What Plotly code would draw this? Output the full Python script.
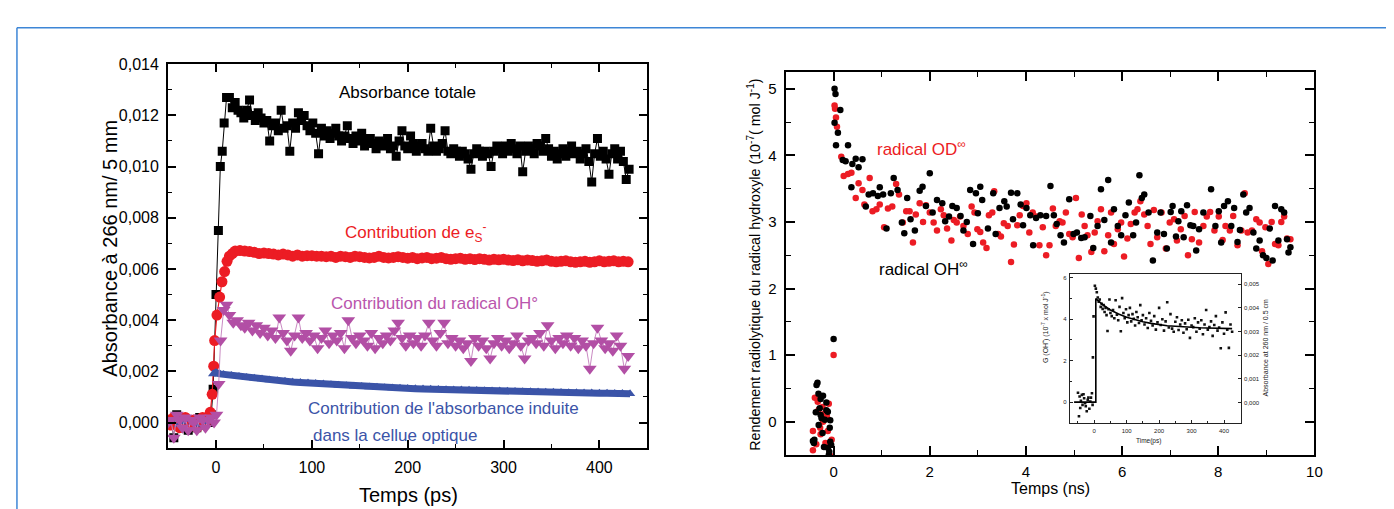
import plotly.graph_objects as go

# ---------------- Left panel data (Temps ps, Absorbance) ----------------
total_t = [-50,-47,-44,-41,-38,-35,-32,-29,-26,-23,-20,-17,-14,-11,-8,-5,-3,0,2.5,4.5,6.5,8.5,11,14,
           17,20,23,26,29,32,35,38,41,44,
           47,50,53,56,59,62,65,68,71,74,
           77,80,83,86,89,92,95,98,101,104,
           107,110,113,116,119,122,125,128,131,134,
           137,140,143,146,149,152,155,158,161,164,
           167,170,173,176,179,182,185,188,191,194,
           197,200,203,206,209,212,215,218,221,224,
           227,230,233,236,239,242,245,248,251,254,
           257,260,263,266,269,272,275,278,281,284,
           287,290,293,296,299,302,305,308,311,314,
           317,320,323,326,329,332,335,338,341,344,
           347,350,353,356,359,362,365,368,371,374,
           377,380,383,386,389,392,395,398,401,404,
           407,410,413,416,419,422,425,428,431]
total_abs = [0.0000,0.0001,-0.0006,0.0003,0.0002,-0.0002,0.0000,-0.0003,0.0001,-0.0001,-0.0002,0.0002,-0.0001,0.0001,0.0000,0.0003,0.0013,0.0050,0.0075,0.0100,0.0106,0.0117,0.0127,0.0127,
             0.0123,0.0125,0.0122,0.0121,0.0119,0.0122,0.0126,0.0120,0.0118,0.0121,
             0.0119,0.0117,0.0118,0.0110,0.0116,0.0117,0.0114,0.0122,0.0115,0.0116,
             0.0106,0.0117,0.0115,0.0121,0.0118,0.0120,0.0116,0.0114,0.0117,0.0113,
             0.0105,0.0115,0.0112,0.0114,0.0111,0.0113,0.0115,0.0112,0.0110,0.0112,
             0.0116,0.0111,0.0109,0.0112,0.0110,0.0113,0.0108,0.0110,0.0111,0.0109,
             0.0107,0.0110,0.0108,0.0109,0.0111,0.0107,0.0108,0.0104,0.0110,0.0114,
             0.0108,0.0107,0.0112,0.0109,0.0106,0.0108,0.0109,0.0107,0.0106,0.0115,
             0.0108,0.0106,0.0107,0.0109,0.0114,0.0106,0.0105,0.0107,0.0106,0.0104,
             0.0106,0.0105,0.0103,0.0099,0.0105,0.0107,0.0106,0.0104,0.0106,0.0105,
             0.0100,0.0106,0.0108,0.0107,0.0105,0.0108,0.0106,0.0109,0.0107,0.0105,
             0.0108,0.0098,0.0106,0.0108,0.0107,0.0105,0.0109,0.0108,0.0106,0.0111,
             0.0107,0.0104,0.0106,0.0103,0.0105,0.0107,0.0104,0.0106,0.0108,0.0105,
             0.0106,0.0103,0.0105,0.0107,0.0102,0.0094,0.0105,0.0111,0.0104,0.0106,
             0.0103,0.0097,0.0105,0.0107,0.0103,0.0106,0.0102,0.0095,0.0099]

es_t = [-50,-47,-44,-41,-38,-35,-32,-29,-26,-23,-20,-17,-14,-11,-8,
        -6,-4,-2.4,-1.4,1,3.8,6.2,9,11.5,14,17,
        20,25,30,35,40,45,50,55,60,65,
        70,75,80,85,90,95,100,105,110,115,
        120,125,130,135,140,145,150,155,160,165,
        170,175,180,185,190,195,200,205,210,215,
        220,225,230,235,240,245,250,255,260,265,
        270,275,280,285,290,295,300,305,310,315,
        320,325,330,335,340,345,350,355,360,365,
        370,375,380,385,390,395,400,405,410,415,
        420,425,430]
es_abs = [0.0001,-0.0001,0.0002,0.0000,-0.0002,0.0001,0.0002,-0.0001,0.0000,0.0001,-0.0002,0.0001,0.0002,0.0000,0.0002,
          0.0004,0.0011,0.0022,0.0032,0.0042,0.0049,0.0055,0.0059,0.0063,0.0065,0.0066,
          0.00670,0.00672,0.00670,0.00668,0.00665,0.00660,0.00662,0.00660,0.00658,0.00655,
          0.00658,0.00655,0.00650,0.00655,0.00650,0.00652,0.00652,0.00650,0.00650,0.00648,
          0.00650,0.00645,0.00650,0.00648,0.00645,0.00650,0.00648,0.00645,0.00643,0.00645,
          0.00650,0.00645,0.00643,0.00645,0.00648,0.00645,0.00642,0.00645,0.00640,0.00643,
          0.00645,0.00640,0.00642,0.00645,0.00640,0.00638,0.00640,0.00642,0.00638,0.00640,
          0.00637,0.00640,0.00638,0.00635,0.00638,0.00636,0.00638,0.00635,0.00633,0.00636,
          0.00632,0.00635,0.00633,0.00630,0.00632,0.00635,0.00630,0.00628,0.00630,0.00632,
          0.00628,0.00626,0.00628,0.00630,0.00626,0.00628,0.00632,0.00628,0.00630,0.00632,
          0.00628,0.00630,0.00628]

oh_t = [-50,-47,-44,-41,-38,-35,-32,-29,-26,-23,-20,-17,-14,-11,-8,-5,-2,
        0.5,2.8,4.8,8,11,
        14,18,22,26,30,34,38,42,46,50,
        54,58,62,66,70,74,78,82,86,90,
        94,98,102,106,110,114,118,122,126,130,
        134,138,142,146,150,154,158,162,166,170,
        174,178,182,186,190,194,198,202,206,210,
        214,218,222,226,230,234,238,242,246,250,
        254,258,262,266,270,274,278,282,286,290,
        294,298,302,306,310,314,318,322,326,330,
        334,338,342,346,350,354,358,362,366,370,
        374,378,382,386,390,394,398,402,406,410,
        414,418,422,426,430]
oh_abs = [0.0000,0.0001,-0.0006,0.0003,0.0001,-0.0002,0.0002,-0.0003,0.0001,0.0000,-0.0003,0.0002,0.0001,-0.0002,0.0001,0.0002,0.0000,
          0.0003,0.0015,0.0032,0.0044,0.0046,
          0.0042,0.0039,0.0040,0.0038,0.0037,0.0039,0.0036,0.0038,0.0035,0.0037,
          0.0034,0.0036,0.0033,0.0041,0.0035,0.0032,0.0028,0.0034,0.0041,0.0033,
          0.0035,0.0032,0.0034,0.0029,0.0033,0.0036,0.0031,0.0034,0.0032,0.0035,
          0.0029,0.0040,0.0033,0.0031,0.0034,0.0032,0.0030,0.0035,0.0029,0.0033,
          0.0031,0.0034,0.0032,0.0036,0.0039,0.0033,0.0030,0.0034,0.0031,0.0033,
          0.0030,0.0034,0.0039,0.0032,0.0030,0.0035,0.0039,0.0031,0.0033,0.0030,
          0.0032,0.0029,0.0031,0.0024,0.0033,0.0030,0.0032,0.0029,0.0025,0.0031,
          0.0033,0.0030,0.0032,0.0029,0.0031,0.0034,0.0030,0.0025,0.0032,0.0033,
          0.0031,0.0035,0.0030,0.0038,0.0032,0.0029,0.0033,0.0031,0.0034,0.0030,
          0.0033,0.0029,0.0032,0.0030,0.0021,0.0031,0.0037,0.0032,0.0029,0.0031,
          0.0028,0.0034,0.0030,0.0021,0.0026]

cell_pre_t = [-50,-45,-40,-35,-30,-25,-20,-15,-10,-5]
cell_pre_abs = [0.0000,0.0001,-0.0001,0.0000,0.0001,0.0000,-0.0001,0.0001,0.0000,0.0001]
cell_t = [-3,0,4,8,16,24,32,40,48,56,64,72,80,88,96,104,112,120,128,136,144,152,160,
          168,176,184,192,200,208,216,224,232,240,248,256,264,272,280,288,296,304,312,320,
          328,336,344,352,360,368,376,384,392,400,408,416,424,432]
cell_abs = [0.00190,0.00195,0.00190,
            0.00188,0.00184,0.00180,0.00176,0.00173,0.00170,0.00166,0.00163,0.00161,0.00158,
            0.00156,0.00154,0.00152,0.00150,0.00148,0.00146,0.00144,0.00142,0.00141,0.00139,
            0.00138,0.00136,0.00135,0.00134,0.00133,0.00132,0.00131,0.00130,0.00129,0.00128,
            0.00127,0.00127,0.00126,0.00125,0.00124,0.00123,0.00123,0.00122,0.00121,0.00120,
            0.00120,0.00119,0.00118,0.00118,0.00117,0.00116,0.00116,0.00115,0.00115,0.00114,
            0.00114,0.00113,0.00113,0.00112]

# ---------------- Right panel data (Temps ns, G) ----------------
OH_ns = [-0.335,-0.355,-0.315,-0.22,-0.27,-0.15,-0.37,-0.12,-0.27,-0.18,-0.07,-0.31,-0.08,-0.23,-0.43,-0.40,-0.07,-0.20,-0.12,-0.09,-0.10,-0.29,-0.15,-0.41,-0.25,-0.05,0.0,
         0.02,0.04,0.02,0.05,0.14,0.09,0.30,0.19,0.25,0.39,
         0.46,0.52,0.60,0.37,0.67,0.73,0.82,0.92,0.96,1.03,
         1.10,1.19,1.25,1.33,1.42,1.47,1.53,1.60,1.69,1.79,
         1.85,1.92,2.00,2.06,2.15,2.26,2.32,2.40,2.47,2.56,
         2.64,2.70,2.77,2.84,2.90,2.96,3.00,3.05,3.09,3.21,
         3.32,3.37,3.45,3.55,3.60,3.69,3.73,3.82,3.89,3.94,
         4.01,4.09,4.15,4.21,4.30,4.42,4.51,4.58,4.64,4.72,
         4.79,4.90,4.99,5.06,5.15,5.22,5.34,5.40,5.49,5.56,
         5.63,5.71,5.77,5.83,5.91,5.98,6.07,6.14,6.23,6.29,
         6.36,6.41,6.46,6.55,6.64,6.73,6.80,6.87,6.93,7.01,
         7.05,7.12,7.17,7.23,7.28,7.35,7.42,7.48,7.54,7.60,
         7.69,7.85,7.94,8.01,8.06,8.12,8.20,8.27,8.33,8.40,
         8.45,8.52,8.58,8.65,8.73,8.79,8.86,8.93,9.00,9.07,
         9.13,9.18,9.25,9.31,9.37,9.43,9.46,9.50]
OH_G = [0.586,0.55,0.42,0.39,0.34,0.29,0.14,0.15,0.10,0.03,0.02,-0.05,-0.09,-0.17,-0.29,-0.27,-0.30,-0.38,-0.39,-0.45,-0.50,0.20,0.17,-0.32,0.05,-0.35,1.24,
        5.00,4.92,4.49,4.15,4.68,4.34,4.15,3.93,3.91,3.87,
        3.95,3.82,3.94,3.52,3.23,3.41,3.43,3.39,3.52,3.41,
        2.90,3.43,3.66,3.48,2.99,2.83,3.36,3.04,2.87,3.47,
        3.53,3.24,3.73,3.14,3.33,3.28,3.01,3.08,3.24,3.21,
        3.09,2.87,3.00,3.48,2.67,3.43,3.13,3.53,3.33,2.90,
        3.43,2.82,3.21,3.31,3.23,3.44,3.04,3.43,3.26,2.95,
        3.21,3.10,2.65,3.06,3.10,3.09,3.54,3.10,2.97,2.80,
        2.69,3.34,2.82,2.84,2.76,2.77,3.09,2.61,2.94,3.49,
        3.03,3.63,2.69,3.19,2.94,2.80,3.10,3.29,2.80,2.99,
        3.70,3.36,3.41,3.14,2.42,2.84,3.14,2.82,2.60,3.15,
        3.24,2.78,3.01,3.16,2.77,3.25,2.95,2.94,2.57,2.89,
        3.14,3.49,2.94,3.16,2.69,3.24,3.31,2.94,3.21,2.70,
        2.88,3.41,3.14,3.21,2.84,2.60,2.72,2.50,2.46,2.90,
        2.42,3.24,2.72,3.19,3.14,2.74,2.54,2.62]

OD_ns = [0.0,-0.39,-0.23,-0.31,-0.14,-0.43,-0.28,-0.12,-0.04,-0.17,-0.43,-0.36,-0.07,-0.22,-0.10,-0.27,-0.33,-0.19,
         0.02,0.03,0.05,0.07,0.16,0.21,0.30,0.37,0.46,0.52,
         0.60,0.64,0.75,0.81,0.89,0.96,1.05,1.13,1.22,1.30,
         1.36,1.44,1.51,1.58,1.65,1.71,1.79,1.86,1.92,2.00,
         2.08,2.15,2.23,2.29,2.36,2.45,2.50,2.56,2.63,2.70,
         2.79,2.87,2.93,2.99,3.05,3.11,3.18,3.23,3.30,3.34,
         3.42,3.48,3.54,3.62,3.69,3.75,3.82,3.87,3.94,4.01,
         4.07,4.14,4.21,4.28,4.35,4.42,4.49,4.56,4.62,4.70,
         4.76,4.83,4.90,4.97,5.04,5.10,5.16,5.22,5.28,5.36,
         5.43,5.49,5.56,5.63,5.71,5.77,5.83,5.91,5.98,6.04,
         6.11,6.18,6.26,6.32,6.38,6.46,6.53,6.59,6.66,6.73,
         6.82,6.91,6.99,7.08,7.14,7.22,7.30,7.37,7.45,7.51,
         7.60,7.69,7.76,7.83,7.92,8.01,8.09,8.15,8.24,8.31,
         8.40,8.48,8.55,8.61,8.70,8.79,8.86,8.91,8.98,9.04,
         9.11,9.18,9.25,9.31,9.37,9.43,9.50]
OD_G = [1.0,0.36,0.22,0.18,0.08,-0.14,-0.09,-0.14,-0.27,-0.32,-0.43,-0.34,-0.51,0.00,0.27,-0.19,0.30,0.12,
        4.75,4.70,4.57,4.43,3.98,3.69,3.72,3.74,3.36,3.58,
        3.48,3.26,3.66,3.16,3.19,3.26,2.92,3.20,3.23,3.57,
        3.41,2.99,3.16,3.16,2.69,3.11,3.28,3.00,3.25,3.14,
        2.99,2.87,3.19,3.10,2.90,2.72,3.03,2.99,3.08,2.94,
        2.82,3.23,3.14,2.89,2.85,2.69,2.61,3.10,3.14,3.46,
        2.82,2.78,2.98,2.94,2.40,2.66,2.95,3.10,3.24,3.28,
        2.84,3.14,3.08,2.65,2.92,2.50,2.65,3.20,2.94,3.01,
        2.99,3.14,2.82,2.77,3.36,2.46,3.11,2.94,2.80,2.55,
        2.84,3.01,3.19,2.56,2.80,3.14,2.67,2.89,2.99,2.48,
        2.75,2.97,3.14,3.19,3.31,3.11,2.94,2.67,3.18,2.77,
        3.14,2.60,2.99,3.04,2.72,2.89,3.09,2.50,2.74,3.15,
        2.69,2.94,3.08,3.15,2.87,3.08,2.73,2.94,2.87,3.09,
        2.65,2.87,3.43,2.84,2.87,3.04,2.99,2.56,2.92,2.37,
        3.00,2.67,2.65,3.00,3.08,2.75,2.74]

# ---------------- Inset data (Time ps, G) ----------------
ins_t = [-50,-47,-45,-43,-41,-38,-36,-33,-31,-28,-26,-23,-20,-18,-15,-12,-10,-7,-5,-4,-2,
         2,5,8,11,14,17,20,23,26,29,32,35,38,41,44,47,50,
         54,58,62,66,70,74,78,82,86,90,94,98,102,106,110,114,118,122,126,130,134,138,142,146,150,
         155,160,165,170,175,180,185,190,195,200,205,210,215,220,225,230,235,240,245,250,
         255,260,265,270,275,280,285,290,295,300,305,310,315,320,325,330,335,340,345,350,
         355,360,365,370,375,380,385,390,395,400,405,410,415,420,425]
ins_G = [0.45,-0.68,0.27,-0.28,0.06,0.35,-0.13,0.38,0.19,-0.05,-0.20,-0.44,0.11,0.22,-0.32,0.03,0.22,0.43,-0.13,2.16,4.14,
         5.62,5.48,5.30,5.05,4.85,4.95,4.60,4.75,4.50,4.68,4.35,4.55,4.20,3.43,4.48,4.95,4.30,
         4.15,4.45,4.05,4.92,4.22,3.95,4.60,3.42,5.02,4.30,4.05,4.48,3.85,4.20,4.55,3.90,4.25,4.02,3.70,4.35,4.10,3.82,4.68,3.95,4.20,
         3.75,4.05,3.58,4.30,3.92,3.70,4.15,3.50,3.85,4.55,3.72,4.00,3.45,3.90,4.82,3.60,4.25,3.55,3.40,3.88,
         4.10,3.48,3.75,3.95,3.35,3.80,3.52,3.98,3.10,3.70,3.62,4.05,3.40,3.85,3.55,3.95,3.28,3.75,4.45,3.50,
         3.62,3.90,3.20,3.72,4.15,3.45,3.60,2.60,3.85,3.30,4.33,3.50,2.62,3.75,3.40]
fit_t = [-62,5,5,25,50,75,100,125,150,175,200,225,250,275,300,325,350,375,400,425]
fit_G = [0,0,5.0,4.72,4.45,4.25,4.10,3.98,3.88,3.80,3.74,3.69,3.66,3.63,3.61,3.59,3.58,3.57,3.56,3.55]

# ---------------- Styling ----------------
W, H = 1394, 509
FONT = "Liberation Sans, Arial, sans-serif"
RED = "#ec1c24"
MAG = "#b24fa5"
BLUE = "#3b54a8"


def px_x(p):
    return p / W


def px_y(p):
    return 1 - p / H


fig = go.Figure()

# left panel traces
fig.add_trace(go.Scatter(x=total_t, y=total_abs, mode="lines+markers",
                         line=dict(color="black", width=1),
                         marker=dict(symbol="square", size=9, color="black"),
                         xaxis="x", yaxis="y"))
fig.add_trace(go.Scatter(x=es_t, y=es_abs, mode="lines+markers",
                         line=dict(color=RED, width=1.2),
                         marker=dict(symbol="circle", size=11, color=RED),
                         xaxis="x", yaxis="y"))
fig.add_trace(go.Scatter(x=cell_pre_t, y=cell_pre_abs, mode="markers",
                         marker=dict(symbol="triangle-up", size=7, color=BLUE),
                         xaxis="x", yaxis="y"))
fig.add_trace(go.Scatter(x=cell_t, y=cell_abs, mode="lines+markers",
                         line=dict(color=BLUE, width=7),
                         marker=dict(symbol="triangle-up", size=9, color=BLUE),
                         xaxis="x", yaxis="y"))
fig.add_trace(go.Scatter(x=oh_t, y=oh_abs, mode="lines+markers",
                         line=dict(color="#c98ac2", width=1),
                         marker=dict(symbol="triangle-down", size=12, color=MAG),
                         xaxis="x", yaxis="y"))

# right panel traces
fig.add_trace(go.Scatter(x=OD_ns, y=OD_G, mode="markers",
                         marker=dict(symbol="circle", size=6.5, color=RED),
                         xaxis="x2", yaxis="y2"))
fig.add_trace(go.Scatter(x=OH_ns, y=OH_G, mode="markers",
                         marker=dict(symbol="circle", size=6.5, color="black"),
                         xaxis="x2", yaxis="y2"))

# inset traces
fig.add_trace(go.Scatter(x=ins_t, y=ins_G, mode="markers",
                         marker=dict(symbol="square", size=2.6, color="#111"),
                         xaxis="x3", yaxis="y3"))
fig.add_trace(go.Scatter(x=fit_t, y=fit_G, mode="lines",
                         line=dict(color="black", width=1.6),
                         xaxis="x3", yaxis="y3"))
fig.add_trace(go.Scatter(x=[None], y=[None], mode="markers", xaxis="x3", yaxis="y4",
                         hoverinfo="skip"))

common = dict(showline=True, linecolor="black", mirror="ticks", ticks="inside",
              showgrid=False, zeroline=False, color="black")
inset_common = dict(showline=True, linecolor="#222", mirror=True, ticks="inside",
                    showgrid=False, zeroline=False, tickcolor="#222",
                    tickfont=dict(size=6, color="#222"), ticklabelstandoff=1)

fig.update_layout(
    width=W, height=H, margin=dict(l=0, r=0, t=0, b=0),
    paper_bgcolor="white", plot_bgcolor="white",
    showlegend=False, separators=",.",
    font=dict(family=FONT, color="black"),
    xaxis=dict(domain=[px_x(161), px_x(643)], range=[-50, 450], anchor="y",
               tick0=0, dtick=100, ticklen=8, tickwidth=1.5, linewidth=2,
               minor=dict(ticks="inside", dtick=50, ticklen=4, tickwidth=1.2),
               tickfont=dict(size=16), ticklabelstandoff=4, **common),
    yaxis=dict(domain=[px_y(439), px_y(49)], range=[-0.001, 0.014], anchor="x",
               tick0=0, dtick=0.002, tickformat=".3f", ticklen=8, tickwidth=1.5, linewidth=2,
               minor=dict(ticks="inside", dtick=0.001, ticklen=4, tickwidth=1.2),
               tickfont=dict(size=16), ticklabelstandoff=4, **common),
    xaxis2=dict(domain=[px_x(782), px_x(1314)], range=[-1, 10], anchor="y2",
                tick0=0, dtick=2, ticklen=9, tickwidth=1.5, linewidth=2,
                minor=dict(ticks="inside", dtick=1, ticklen=5, tickwidth=1.2),
                tickfont=dict(size=15), ticklabelstandoff=2, **common),
    yaxis2=dict(domain=[px_y(446), px_y(57)], range=[-0.5, 5.25], anchor="x2",
                tick0=0, dtick=1, ticklen=9, tickwidth=1.5, linewidth=2,
                minor=dict(ticks="inside", dtick=0.5, ticklen=5, tickwidth=1.2),
                tickfont=dict(size=15), ticklabelstandoff=4, **common),
    xaxis3=dict(domain=[px_x(1068), px_x(1240)], range=[-75, 452], anchor="y3",
                tick0=0, dtick=100, ticklen=3, tickwidth=1, linewidth=1,
                minor=dict(ticks="inside", dtick=50, ticklen=2, tickwidth=1),
                **inset_common),
    yaxis3=dict(domain=[px_y(414), px_y(262)], range=[-1.03, 6.19], anchor="x3",
                tick0=0, dtick=2, ticklen=3, tickwidth=1, linewidth=1,
                minor=dict(ticks="inside", dtick=1, ticklen=2, tickwidth=1),
                **inset_common),
    yaxis4=dict(overlaying="y3", side="right", anchor="x3",
                range=[-0.00089, 0.00544], tick0=0, dtick=0.001, tickformat=".3f",
                ticklen=3, tickwidth=1, showline=True, linecolor="#222", linewidth=1,
                ticks="inside", tickcolor="#222", tickfont=dict(size=6, color="#222"),
                ticklabelstandoff=1, showgrid=False, zeroline=False),
)

ann = []


def add_text(text, x, y, size, color="black", angle=0):
    ann.append(dict(text=text, x=px_x(x), y=px_y(y), xref="paper", yref="paper",
                    showarrow=False, xanchor="center", yanchor="middle",
                    textangle=angle, font=dict(size=size, color=color, family=FONT)))


# axis titles
add_text("Absorbance à 266 nm/ 5 mm", 103, 236, 20, angle=-90)
add_text("Temps (ps)", 403, 487, 20)
add_text("Rendement radiolytique du radical hydroxyle (10<sup>-7</sup>( mol J<sup>-1</sup>)", 750, 253, 14.3, angle=-90)
add_text("Temps (ns)", 1049, 480, 16)
add_text("G (OH<sup>•</sup>) (10<sup>-7</sup> x mol J<sup>-1</sup>)", 1043, 316, 7, color="#222", angle=-90)
add_text("Absorbance at 260 nm / 0.5 cm", 1265, 337, 7, color="#222", angle=-90)
add_text("Time(ps)", 1147, 432, 6.5, color="#222")

# series labels
add_text("Absorbance totale", 402, 78, 17)
add_text("Contribution de e<sub>S</sub><sup>-</sup>", 410, 220, 17, color=RED)
add_text("Contribution du radical OH°", 429, 292, 17, color="#b955ad")
add_text("Contribution de l'absorbance induite", 438, 399, 17, color=BLUE)
add_text("dans la cellue optique", 389, 426, 17, color=BLUE)
add_text("radical OD<sup>∞</sup>", 919, 134, 17, color=RED)
add_text("radical OH<sup>∞</sup>", 921, 256, 17)

fig.update_layout(annotations=ann)

# blue page frame
fig.update_layout(shapes=[
    dict(type="line", xref="paper", yref="paper", x0=px_x(9), x1=1, y0=px_y(12), y1=px_y(12),
         line=dict(color="#3d86d6", width=1.5)),
    dict(type="line", xref="paper", yref="paper", x0=px_x(9), x1=px_x(9), y0=px_y(12), y1=0,
         line=dict(color="#3d86d6", width=1.5)),
])

fig.write_html("out.html")
